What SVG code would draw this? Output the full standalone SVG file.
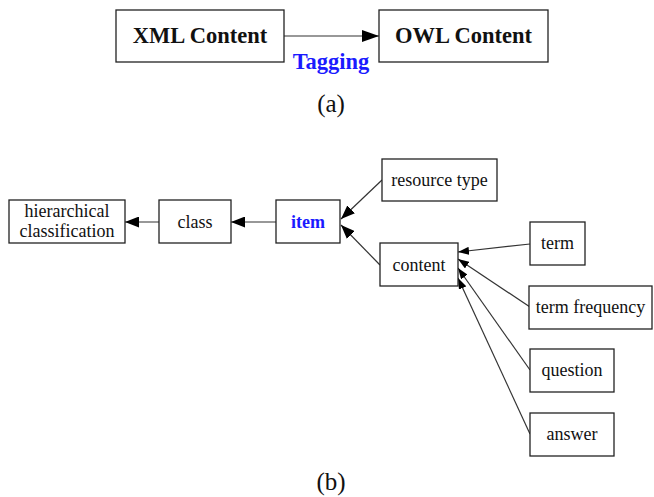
<svg xmlns="http://www.w3.org/2000/svg" width="654" height="497" viewBox="0 0 654 497">
<style>
.box{fill:#fff;stroke:#222;stroke-width:1.3}
.t{font-family:"Liberation Serif","Times New Roman",serif;font-size:18px;fill:#111;text-anchor:middle}
.big{font-family:"Liberation Serif","Times New Roman",serif;font-size:22.5px;font-weight:bold;fill:#111;text-anchor:middle}
.blue{fill:#1a1aff}
.cap{font-family:"Liberation Serif","Times New Roman",serif;font-size:25px;fill:#111;text-anchor:middle}
.e{stroke:#333;stroke-width:1.2;fill:none;marker-end:url(#ah)}
.s{marker-end:url(#as)}
.l{marker-end:url(#al)}
</style>
<defs>
<marker id="ah" markerUnits="userSpaceOnUse" markerWidth="14" markerHeight="11" refX="14" refY="5.5" orient="auto" viewBox="0 0 14 11">
<path d="M0,0 L14,5.5 L0,11 Z" fill="#000"/>
</marker>
<marker id="as" markerUnits="userSpaceOnUse" markerWidth="11" markerHeight="8" refX="11" refY="4" orient="auto" viewBox="0 0 11 8">
<path d="M0,0 L11,4 L0,8 Z" fill="#000"/>
</marker>
<marker id="al" markerUnits="userSpaceOnUse" markerWidth="17" markerHeight="12" refX="17" refY="6" orient="auto" viewBox="0 0 17 12">
<path d="M0,0 L17,6 L0,12 Z" fill="#000"/>
</marker>
</defs>
<g id="connectors">
<line class="e l" x1="284" y1="36" x2="379" y2="36"/>
<line class="e" x1="276" y1="222" x2="231" y2="222"/>
<line class="e" x1="159" y1="222" x2="125" y2="222"/>
<line class="e" x1="382" y1="180" x2="341" y2="219"/>
<line class="e" x1="380" y1="265" x2="341" y2="225"/>
<line class="e s" x1="530" y1="244" x2="458" y2="252"/>
<line class="e s" x1="530" y1="307" x2="458" y2="259"/>
<line class="e s" x1="530" y1="370" x2="458" y2="268"/>
<line class="e s" x1="530" y1="434" x2="458" y2="278"/>
</g>
<g id="xml"><rect class="box" x="116" y="10" width="168" height="52"/><text class="big" x="200" y="43">XML Content</text></g>
<g id="owl"><rect class="box" x="379" y="10" width="169" height="52"/><text class="big" x="463.5" y="43">OWL Content</text></g>
<text class="big blue" x="331" y="69">Tagging</text>
<text class="cap" x="331" y="112">(a)</text>
<g id="hier"><rect class="box" x="9" y="200" width="116" height="43"/><text class="t" x="67" y="217">hierarchical</text><text class="t" x="67" y="237">classification</text></g>
<g id="class"><rect class="box" x="159" y="200" width="72" height="43"/><text class="t" x="195" y="228">class</text></g>
<g id="item"><rect class="box" x="276" y="200" width="64" height="43"/><text class="t blue" x="308" y="228" font-weight="bold">item</text></g>
<g id="resource"><rect class="box" x="382" y="159" width="115" height="42"/><text class="t" x="439.5" y="186">resource type</text></g>
<g id="content"><rect class="box" x="380" y="243" width="78" height="43"/><text class="t" x="419" y="271">content</text></g>
<g id="term"><rect class="box" x="530" y="222" width="55" height="43"/><text class="t" x="557.5" y="249">term</text></g>
<g id="termfreq"><rect class="box" x="529" y="286" width="123" height="43"/><text class="t" x="590.5" y="313">term frequency</text></g>
<g id="question"><rect class="box" x="530" y="349" width="84" height="43"/><text class="t" x="572" y="376">question</text></g>
<g id="answer"><rect class="box" x="530" y="413" width="84" height="43"/><text class="t" x="572" y="440">answer</text></g>
<text class="cap" x="331" y="490">(b)</text>
</svg>
